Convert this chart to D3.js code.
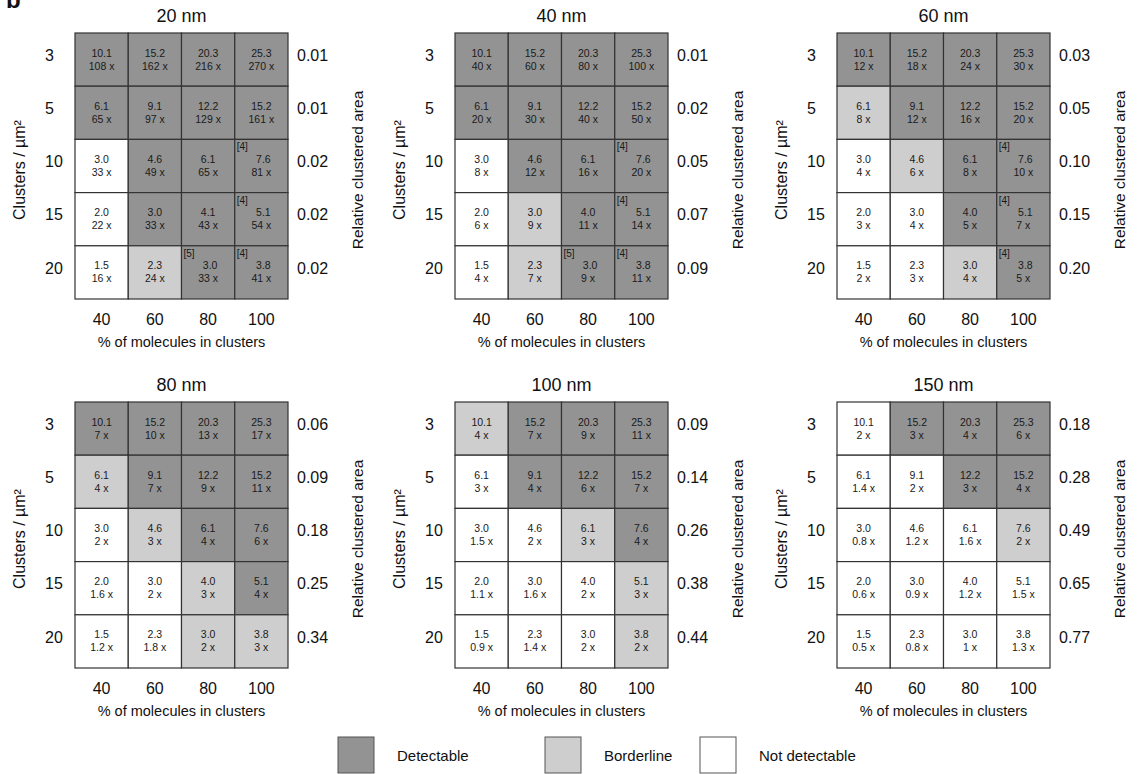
<!DOCTYPE html>
<html>
<head>
<meta charset="utf-8">
<script src="https://cdn.jsdelivr.net/npm/d3@7"></script>
<style>
  html, body { margin: 0; padding: 0; background: #fff; }
  svg { display: block; font-family: Arial, "Liberation Sans", Helvetica, sans-serif; }
</style>
</head>
<body>
<svg id="chart" width="1143" height="774"></svg>
<script>
// Cluster detection grid: one panel per cluster size
const panelTitles = ["20 nm", "40 nm", "60 nm", "80 nm", "100 nm", "150 nm"];
const clusterDensity = [3, 5, 10, 15, 20];          // clusters / µm² (rows)
const pctInClusters = [40, 60, 80, 100];            // % of molecules in clusters (columns)

// Relative density inside clusters (first line of each cell)
const relDensity20nm = [
  [10.1, 15.2, 20.3, 25.3],
  [6.1, 9.1, 12.2, 15.2],
  [3.0, 4.6, 6.1, 7.6],
  [2.0, 3.0, 4.1, 5.1],
  [1.5, 2.3, 3.0, 3.8]
];
const relDensityOther = [
  [10.1, 15.2, 20.3, 25.3],
  [6.1, 9.1, 12.2, 15.2],
  [3.0, 4.6, 6.1, 7.6],
  [2.0, 3.0, 4.0, 5.1],
  [1.5, 2.3, 3.0, 3.8]
];

// Fold enrichment (second line of each cell)
const fold20 = [[108, 162, 216, 270], [65, 97, 129, 161], [33, 49, 65, 81], [22, 33, 43, 54], [16, 24, 33, 41]];
const fold40 = [[40, 60, 80, 100], [20, 30, 40, 50], [8, 12, 16, 20], [6, 9, 11, 14], [4, 7, 9, 11]];
const fold60 = [[12, 18, 24, 30], [8, 12, 16, 20], [4, 6, 8, 10], [3, 4, 5, 7], [2, 3, 4, 5]];
const fold80 = [[7, 10, 13, 17], [4, 7, 9, 11], [2, 3, 4, 6], [1.6, 2, 3, 4], [1.2, 1.8, 2, 3]];
const fold100 = [[4, 7, 9, 11], [3, 4, 6, 7], [1.5, 2, 3, 4], [1.1, 1.6, 2, 3], [0.9, 1.4, 2, 2]];
const fold150 = [[2, 3, 4, 6], [1.4, 2, 3, 4], [0.8, 1.2, 1.6, 2], [0.6, 0.9, 1.2, 1.5], [0.5, 0.8, 1, 1.3]];

// Relative clustered area per row (right-hand labels)
const area20 = [0.01, 0.01, 0.02, 0.02, 0.02];
const area40 = [0.01, 0.02, 0.05, 0.07, 0.09];
const area60 = [0.03, 0.05, 0.10, 0.15, 0.20];
const area80 = [0.06, 0.09, 0.18, 0.25, 0.34];
const area100 = [0.09, 0.14, 0.26, 0.38, 0.44];
const area150 = [0.18, 0.28, 0.49, 0.65, 0.77];

// Detection outcome: D = detectable, B = borderline, N = not detectable
const status20 = ["DDDD", "DDDD", "NDDD", "NDDD", "NBDD"];
const status40 = ["DDDD", "DDDD", "NDDD", "NBDD", "NBDD"];
const status60 = ["DDDD", "BDDD", "NBDD", "NNDD", "NNBD"];
const status80 = ["DDDD", "BDDD", "NBDD", "NNBD", "NNBB"];
const status100 = ["BDDD", "NDDD", "NNBD", "NNNB", "NNNB"];
const status150 = ["NDDD", "NNDD", "NNNB", "NNNN", "NNNN"];

// Reference markers attached to individual cells: [row, column, label]
const notes20 = [[2, 3, "[4]"], [3, 3, "[4]"], [4, 3, "[4]"], [4, 2, "[5]"]];
const notes40 = [[2, 3, "[4]"], [3, 3, "[4]"], [4, 3, "[4]"], [4, 2, "[5]"]];
const notes60 = [[2, 3, "[4]"], [3, 3, "[4]"], [4, 3, "[4]"]];

const legendKeys = ["D", "B", "N"];
const legendLabels = ["Detectable", "Borderline", "Not detectable"];

const panels = [
  { title: panelTitles[0], dens: relDensity20nm, fold: fold20, area: area20, status: status20, notes: notes20 },
  { title: panelTitles[1], dens: relDensityOther, fold: fold40, area: area40, status: status40, notes: notes40 },
  { title: panelTitles[2], dens: relDensityOther, fold: fold60, area: area60, status: status60, notes: notes60 },
  { title: panelTitles[3], dens: relDensityOther, fold: fold80, area: area80, status: status80, notes: [] },
  { title: panelTitles[4], dens: relDensityOther, fold: fold100, area: area100, status: status100, notes: [] },
  { title: panelTitles[5], dens: relDensityOther, fold: fold150, area: area150, status: status150, notes: [] }
];

const fill = d3.scaleOrdinal().domain(legendKeys).range(["#939393", "#cecece", "#ffffff"]);

const svg = d3.select("#chart");
const gridW = 213, gridH = 266;
const panelX = [75, 455, 837];
const panelY = [33, 402];

const x = d3.scaleBand().domain(pctInClusters).range([0, gridW]);
const y = d3.scaleBand().domain(clusterDensity).range([0, gridH]);

const fmtDens = d3.format(".1f");
const fmtArea = d3.format(".2f");
const textColor = "#1a1a1a";

// Panel letter
svg.append("text").attr("x", 6).attr("y", 8)
  .attr("font-size", 24).attr("font-weight", "bold").attr("fill", "#111").text("b");

panels.forEach((p, i) => {
  const g = svg.append("g")
    .attr("transform", `translate(${panelX[i % 3]},${panelY[Math.floor(i / 3)]})`);

  // title
  g.append("text").attr("x", gridW / 2).attr("y", -11)
    .attr("text-anchor", "middle").attr("font-size", 18).attr("fill", "#111").text(p.title);

  const cells = [];
  clusterDensity.forEach((cd, r) => {
    pctInClusters.forEach((pc, c) => {
      cells.push({ r, c, cd, pc, s: p.status[r][c], dens: p.dens[r][c], fold: p.fold[r][c] });
    });
  });

  const cell = g.selectAll("g.cell").data(cells).join("g").attr("class", "cell")
    .attr("transform", d => `translate(${x(d.pc)},${y(d.cd)})`);

  cell.append("rect")
    .attr("width", x.bandwidth()).attr("height", y.bandwidth())
    .attr("fill", d => fill(d.s))
    .attr("stroke", "#333").attr("stroke-width", 1.2);

  const noteKey = new Map(p.notes.map(n => [n[0] + "," + n[1], n[2]]));

  cell.append("text")
    .attr("x", d => x.bandwidth() / 2 + (noteKey.has(d.r + "," + d.c) ? 2 : 0))
    .attr("y", y.bandwidth() / 2 - 3)
    .attr("text-anchor", "middle").attr("font-size", 10.5).attr("fill", textColor)
    .text(d => fmtDens(d.dens));

  cell.append("text")
    .attr("x", x.bandwidth() / 2).attr("y", y.bandwidth() / 2 + 10)
    .attr("text-anchor", "middle").attr("font-size", 10.5).attr("fill", textColor)
    .text(d => d.fold + " x");

  cell.filter(d => noteKey.has(d.r + "," + d.c)).append("text")
    .attr("x", 2).attr("y", 11)
    .attr("font-size", 10).attr("fill", textColor)
    .text(d => noteKey.get(d.r + "," + d.c));

  // row labels (cluster density)
  g.selectAll("text.rowlab").data(clusterDensity).join("text").attr("class", "rowlab")
    .attr("x", -30).attr("y", d => y(d) + y.bandwidth() / 2 - 3)
    .attr("dominant-baseline", "middle").attr("font-size", 16).attr("fill", "#111")
    .text(d => d);

  // right labels (relative clustered area)
  g.selectAll("text.arealab").data(clusterDensity).join("text").attr("class", "arealab")
    .attr("x", gridW + 9).attr("y", (d, k) => y(d) + y.bandwidth() / 2 - 3)
    .attr("dominant-baseline", "middle").attr("font-size", 16).attr("fill", "#111")
    .text((d, k) => fmtArea(p.area[k]));

  // column labels
  g.selectAll("text.collab").data(pctInClusters).join("text").attr("class", "collab")
    .attr("x", d => x(d) + x.bandwidth() / 2).attr("y", gridH + 26)
    .attr("text-anchor", "middle").attr("font-size", 16).attr("fill", "#111")
    .text(d => d);

  // axis titles
  g.append("text").attr("x", gridW / 2).attr("y", gridH + 48)
    .attr("text-anchor", "middle").attr("font-size", 14.5).attr("fill", "#111")
    .text("% of molecules in clusters");

  g.append("text")
    .attr("transform", `translate(-50,${gridH / 2 + 4}) rotate(-90)`)
    .attr("text-anchor", "middle").attr("font-size", 16).attr("fill", "#111")
    .text("Clusters / µm²");

  g.append("text")
    .attr("transform", `translate(${gridW + 75},${gridH / 2 + 4}) rotate(-90)`)
    .attr("text-anchor", "middle").attr("font-size", 15.5).attr("fill", "#111")
    .text("Relative clustered area");
});

// Legend
const legendX = [338, 545, 700];
const lg = svg.append("g").attr("transform", "translate(0,737)");
legendKeys.forEach((k, i) => {
  lg.append("rect").attr("x", legendX[i]).attr("y", 0).attr("width", 36).attr("height", 36)
    .attr("fill", fill(k)).attr("stroke", "#555").attr("stroke-width", 1);
  lg.append("text").attr("x", legendX[i] + 59).attr("y", 24)
    .attr("font-size", 15).attr("fill", "#111").text(legendLabels[i]);
});
</script>
</body>
</html>
